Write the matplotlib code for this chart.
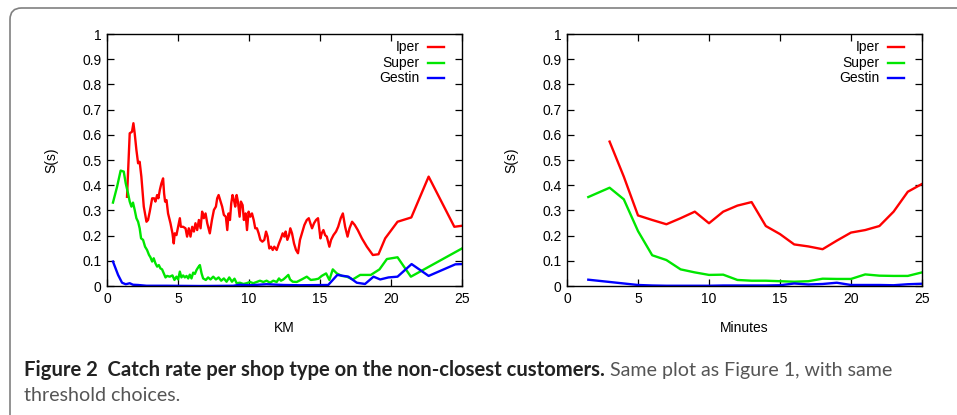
import numpy as np
import matplotlib
matplotlib.use('Agg')
import matplotlib.pyplot as plt
from matplotlib.patches import FancyBboxPatch

## data
km_iper = [1.41, 1.60, 1.76, 1.86, 1.95, 2.07, 2.19, 2.30, 2.42, 2.59, 2.78, 2.89, 3.01, 3.18, 3.32,
           3.41, 3.53, 3.62, 3.72, 3.83, 3.95, 4.02, 4.09, 4.19, 4.30, 4.47, 4.61, 4.70, 4.77, 4.89,
           5.01, 5.13, 5.20, 5.36, 5.53, 5.64, 5.76, 5.88, 6.00, 6.12, 6.23, 6.35, 6.47, 6.59, 6.70,
           6.82, 6.94, 7.06, 7.24, 7.39, 7.53, 7.67, 7.76, 7.86, 8.00, 8.11, 8.23, 8.37, 8.47, 8.56,
           8.66, 8.75, 8.84, 8.94, 9.03, 9.13, 9.22, 9.34, 9.43, 9.55, 9.64, 9.76, 9.86, 9.97, 10.09,
           10.21, 10.33, 10.44, 10.56, 10.68, 10.80, 10.94, 11.08, 11.20, 11.31, 11.43, 11.55, 11.67,
           11.78, 11.95, 12.11, 12.25, 12.37, 12.49, 12.58, 12.70, 12.82, 12.91, 13.03, 13.17, 13.31,
           13.45, 13.59, 13.76, 13.90, 14.07, 14.21, 14.32, 14.44, 14.58, 14.72, 14.86, 14.96, 15.03,
           15.12, 15.24, 15.36, 15.48, 15.57, 15.66, 15.78, 15.95, 16.13, 16.28, 16.46, 16.61, 16.77,
           16.94, 17.08, 17.26, 17.45, 17.66, 17.95, 18.30, 18.72, 19.12, 19.59, 20.46, 21.43, 22.65,
           24.46, 25.0]
s_iper_km = [0.354, 0.606, 0.612, 0.646, 0.606, 0.540, 0.487, 0.493, 0.434, 0.315, 0.255, 0.262, 0.295,
             0.348, 0.348, 0.335, 0.361, 0.348, 0.381, 0.407, 0.427, 0.368, 0.335, 0.341, 0.288, 0.249,
             0.209, 0.169, 0.209, 0.202, 0.235, 0.269, 0.235, 0.235, 0.229, 0.196, 0.229, 0.196, 0.235,
             0.216, 0.249, 0.222, 0.262, 0.229, 0.295, 0.269, 0.288, 0.249, 0.209, 0.262, 0.302, 0.315,
             0.348, 0.361, 0.335, 0.315, 0.282, 0.275, 0.222, 0.288, 0.262, 0.328, 0.361, 0.341, 0.315,
             0.361, 0.335, 0.275, 0.335, 0.321, 0.262, 0.288, 0.222, 0.295, 0.275, 0.288, 0.262, 0.229,
             0.229, 0.209, 0.183, 0.176, 0.183, 0.216, 0.196, 0.149, 0.156, 0.143, 0.156, 0.143, 0.169,
             0.189, 0.209, 0.196, 0.216, 0.183, 0.202, 0.229, 0.209, 0.169, 0.143, 0.130, 0.183, 0.216,
             0.242, 0.262, 0.269, 0.249, 0.229, 0.249, 0.262, 0.269, 0.222, 0.189, 0.209, 0.222, 0.202,
             0.196, 0.176, 0.156, 0.183, 0.202, 0.216, 0.235, 0.269, 0.288, 0.235, 0.196, 0.229, 0.255,
             0.242, 0.222, 0.189, 0.156, 0.123, 0.126, 0.189, 0.255, 0.272, 0.434, 0.235, 0.239]

km_super = [0.42, 0.71, 0.96, 1.18, 1.32, 1.48, 1.60, 1.72, 1.83, 1.95, 2.07, 2.19, 2.30, 2.40, 2.54,
            2.68, 2.82, 2.96, 3.06, 3.18, 3.29, 3.41, 3.53, 3.65, 3.76, 3.88, 4.00, 4.12, 4.23, 4.42,
            4.61, 4.75, 4.89, 5.01, 5.13, 5.24, 5.36, 5.48, 5.60, 5.72, 5.83, 5.95, 6.07, 6.19, 6.30,
            6.42, 6.54, 6.66, 6.77, 6.96, 7.12, 7.29, 7.48, 7.67, 7.86, 8.04, 8.23, 8.42, 8.61, 8.80,
            8.98, 9.13, 9.36, 9.60, 9.83, 10.07, 10.30, 10.54, 10.77, 11.01, 11.24, 11.48, 11.71, 11.95,
            12.11, 12.25, 12.42, 12.58, 12.77, 12.89, 13.08, 13.36, 13.71, 14.07, 14.35, 14.65, 14.89,
            15.12, 15.43, 15.66, 15.90, 16.18, 16.54, 16.89, 17.31, 17.83, 18.58, 19.19, 19.71, 20.46,
            21.40, 25.0]
s_super_km = [0.331, 0.394, 0.458, 0.454, 0.407, 0.368, 0.335, 0.315, 0.331, 0.302, 0.269, 0.255, 0.229,
              0.189, 0.183, 0.156, 0.143, 0.123, 0.114, 0.097, 0.110, 0.090, 0.077, 0.083, 0.070, 0.066,
              0.050, 0.034, 0.040, 0.037, 0.042, 0.024, 0.037, 0.026, 0.057, 0.034, 0.042, 0.034, 0.040,
              0.030, 0.045, 0.030, 0.053, 0.048, 0.063, 0.074, 0.083, 0.050, 0.030, 0.024, 0.034, 0.026,
              0.037, 0.026, 0.034, 0.021, 0.030, 0.017, 0.034, 0.017, 0.029, 0.011, 0.013, 0.008, 0.011,
              0.016, 0.011, 0.016, 0.021, 0.016, 0.021, 0.013, 0.021, 0.016, 0.030, 0.021, 0.026, 0.034,
              0.044, 0.026, 0.017, 0.016, 0.026, 0.037, 0.024, 0.026, 0.029, 0.040, 0.050, 0.024, 0.066,
              0.050, 0.040, 0.037, 0.026, 0.044, 0.044, 0.066, 0.107, 0.114, 0.037, 0.149]

km_gestin = [0.42, 0.78, 1.06, 1.32, 1.60, 1.83, 2.19, 2.78, 4.19, 6.54, 8.89, 9.36, 10.07, 11.24,
             12.42, 13.59, 15.58, 16.22, 17.00, 17.59, 18.17, 18.77, 19.24, 19.82, 20.46, 21.45,
             22.65, 24.53, 25.0]
s_gestin_km = [0.097, 0.044, 0.013, 0.007, 0.011, 0.005, 0.004, 0.001, 0.001, 0.0, 0.001, 0.005, 0.003,
               0.007, 0.004, 0.003, 0.004, 0.044, 0.037, 0.013, 0.008, 0.037, 0.026, 0.034, 0.037,
               0.087, 0.040, 0.086, 0.087]

min_iper = [3, 4, 5, 6, 7, 8, 9, 10, 11, 12, 13, 14, 15, 16, 17, 18, 19, 20, 21, 22, 23, 24, 25]
s_iper_min = [0.573, 0.434, 0.280, 0.262, 0.245, 0.269, 0.295, 0.249, 0.295, 0.319, 0.333, 0.238,
              0.206, 0.165, 0.157, 0.146, 0.180, 0.212, 0.222, 0.238, 0.295, 0.374, 0.405]

min_other = [1.5, 3, 4, 5, 6, 7, 8, 9, 10, 11, 12, 13, 14, 15, 16, 17, 18, 19, 20, 21, 22, 23, 24, 25]
s_super_min = [0.353, 0.390, 0.344, 0.218, 0.122, 0.103, 0.066, 0.054, 0.044, 0.045, 0.024, 0.021,
               0.021, 0.019, 0.017, 0.019, 0.029, 0.028, 0.028, 0.046, 0.041, 0.040, 0.040, 0.054]
s_gestin_min = [0.025, 0.016, 0.010, 0.004, 0.002, 0.001, 0.001, 0.001, 0.001, 0.002, 0.002, 0.002,
                0.002, 0.003, 0.010, 0.006, 0.008, 0.013, 0.004, 0.004, 0.004, 0.003, 0.007, 0.009]

names = ['Iper', 'Super', 'Gestin']
colors = ['#ff0000', '#00e600', '#0000ff']

plt.rcParams['font.family'] = ['Liberation Sans', 'DejaVu Sans']

fig = plt.figure(figsize=(9.57, 4.15), dpi=100)

# rounded frame around the figure (only top/left visible)
frame = FancyBboxPatch((10 / 957, -30 / 415), 980 / 957, (415 - 8 + 30) / 415,
                       boxstyle='round,pad=0,rounding_size=0.012', transform=fig.transFigure,
                       fill=False, edgecolor='#808080', linewidth=1.2, mutation_aspect=957 / 415)
fig.patches.append(frame)

ax1 = fig.add_axes([107 / 957, 1 - 286 / 415, 355 / 957, 252 / 415])
ax2 = fig.add_axes([567 / 957, 1 - 286 / 415, 355 / 957, 252 / 415])

ax1.plot(km_iper, s_iper_km, color=colors[0], lw=1.7)
ax1.plot(km_super, s_super_km, color=colors[1], lw=1.7)
ax1.plot(km_gestin, s_gestin_km, color=colors[2], lw=1.7)

ax2.plot(min_iper, s_iper_min, color=colors[0], lw=1.7)
ax2.plot(min_other, s_super_min, color=colors[1], lw=1.7)
ax2.plot(min_other, s_gestin_min, color=colors[2], lw=1.7)

for ax, xlab in [(ax1, 'KM'), (ax2, 'Minutes')]:
    ax.set_xlim(0, 25)
    ax.set_ylim(0, 1)
    ax.set_xticks(np.arange(0, 26, 5))
    ax.set_yticks(np.arange(0, 1.01, 0.1))
    ax.set_yticklabels(['0', '0.1', '0.2', '0.3', '0.4', '0.5', '0.6', '0.7', '0.8', '0.9', '1'])
    ax.tick_params(direction='in', length=5, width=0.9, top=True, right=True,
                   labelsize=10, pad=4)
    for sp in ax.spines.values():
        sp.set_linewidth(1.0)
    ax.set_xlabel(xlab, fontsize=10, labelpad=11)
    ax.set_ylabel('S(s)', fontsize=10, labelpad=17)
    # gnuplot-like key: right aligned label, sample line to the right
    for i, (nm, c) in enumerate(zip(names, colors)):
        yk = 0.948 - i * 0.0615
        ax.text(0.880, yk, nm, transform=ax.transAxes, ha='right', va='center', fontsize=10)
        ax.plot([0.903, 0.949], [yk, yk], transform=ax.transAxes, color=c, lw=1.7)

# caption
fig.canvas.draw()
r = fig.canvas.get_renderer()
cap_font = ['Lato', 'DejaVu Sans']
t1 = fig.text(24 / 957, 1 - 370 / 415, 'Figure 2  Catch rate per shop type on the non-closest customers.',
              fontsize=14.6, fontweight='bold', family=cap_font, color='#222222', va='center')
bb = t1.get_window_extent(renderer=r)
fig.text(bb.x1 / 957 + 5 / 957, 1 - 370 / 415, 'Same plot as Figure 1, with same',
         fontsize=14.1, family=cap_font, color='#555555', va='center')
fig.text(24 / 957, 1 - 395 / 415, 'threshold choices.',
         fontsize=14.1, family=cap_font, color='#555555', va='center')

fig.savefig('out.png', dpi=100)
